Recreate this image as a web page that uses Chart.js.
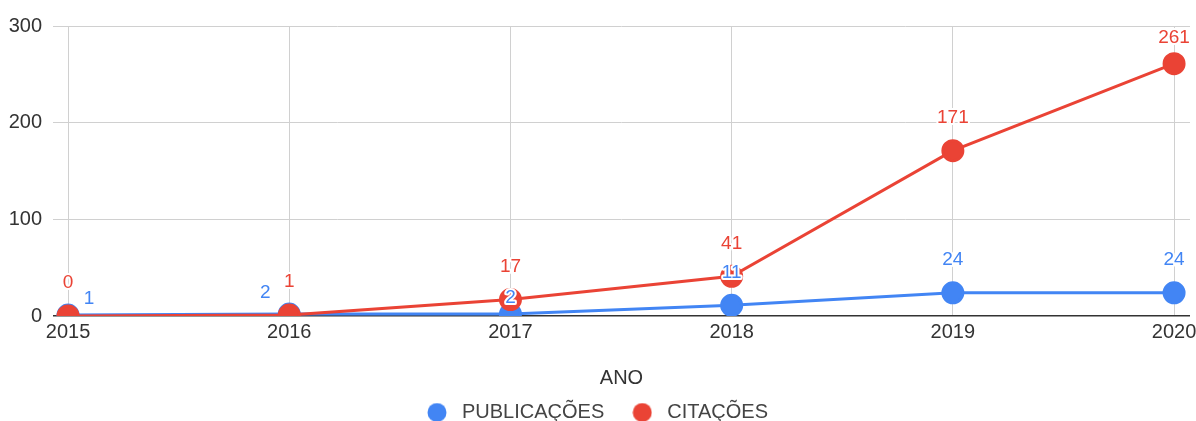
<!DOCTYPE html>
<html>
<head>
<meta charset="utf-8">
<script src="https://cdn.jsdelivr.net/npm/chart.js@4/dist/chart.umd.min.js"></script>
<style>
  html, body { margin: 0; padding: 0; background: #fff; }
  #wrap { width: 1196px; height: 421px; }
</style>
</head>
<body>
<div id="wrap"><canvas id="chart" width="1196" height="421"></canvas></div>
<script>
const years = [2015, 2016, 2017, 2018, 2019, 2020];
const publicacoes = [1, 2, 2, 11, 24, 24];
const citacoes = [0, 1, 17, 41, 171, 261];
const yTicks = [0, 100, 200, 300];

const BLUE = "#4285f4";
const RED = "#ea4335";
const FONT = "Arial, 'Liberation Sans', sans-serif";
const FS = 20;

// where google put the value labels (px from point centre), default is straight above
const labelShift = [
  { 0: [21, -16], 1: [-24, -21], 2: [0, -16] },
  { 5: [0, -26] },
];

const valueLabels = {
  id: "valueLabels",
  afterDatasetsDraw(chart) {
    const ctx = chart.ctx;
    ctx.save();
    ctx.font = "19px " + FONT;
    ctx.textAlign = "center";
    ctx.textBaseline = "middle";
    ctx.lineJoin = "round";
    chart.data.datasets.forEach((ds, di) => {
      const meta = chart.getDatasetMeta(di);
      meta.data.forEach((pt, i) => {
        const s = labelShift[di][i] || [0, -33];
        const x = pt.x + s[0];
        const y = pt.y + s[1];
        const txt = String(ds.data[i].y);
        ctx.strokeStyle = "#fff";
        ctx.lineWidth = 4;
        ctx.strokeText(txt, x, y);
        ctx.fillStyle = ds.borderColor;
        ctx.fillText(txt, x, y);
      });
    });
    ctx.restore();
  },
};

// legend dots as small images so the gap to the text can be wider
function dot(color) {
  const c = document.createElement("canvas");
  c.width = 20;
  c.height = 20;
  const g = c.getContext("2d");
  g.fillStyle = color;
  g.beginPath();
  g.arc(10, 10, 9.5, 0, Math.PI * 2);
  g.fill();
  return c;
}
const dots = [dot(BLUE), dot(RED)];

const toPoints = (arr) => arr.map((v, i) => ({ x: years[i], y: v }));

new Chart(document.getElementById("chart"), {
  type: "line",
  data: {
    datasets: [
      {
        label: "PUBLICAÇÕES",
        data: toPoints(publicacoes),
        borderColor: BLUE,
        backgroundColor: BLUE,
        borderWidth: 3,
        pointRadius: 10,
        pointHoverRadius: 10,
        order: 1,
      },
      {
        label: "CITAÇÕES",
        data: toPoints(citacoes),
        borderColor: RED,
        backgroundColor: RED,
        borderWidth: 3,
        pointRadius: 10,
        pointHoverRadius: 10,
        order: 0,
      },
    ],
  },
  options: {
    responsive: false,
    animation: false,
    layout: { autoPadding: false, padding: { top: 26, right: 6, left: 0, bottom: -11.5 } },
    plugins: {
      tooltip: { enabled: false },
      legend: {
        position: "bottom",
        labels: {
          usePointStyle: true,
          pointStyleWidth: 30,
          boxHeight: 18,
          padding: 23,
          color: "#444",
          font: { size: FS, family: FONT },
          sort: (a, b) => a.datasetIndex - b.datasetIndex,
          generateLabels: (chart) =>
            Chart.defaults.plugins.legend.labels.generateLabels(chart).map((it) => {
              it.pointStyle = dots[it.datasetIndex];
              return it;
            }),
        },
      },
    },
    scales: {
      x: {
        type: "linear",
        min: 2014.932,
        max: 2020.072,
        afterBuildTicks: (s) => { s.ticks = years.map((v) => ({ value: v })); },
        afterFit: (s) => {
          s.height = 63.5;
          s.paddingLeft = 0;
          s.paddingRight = 0;
        },
        ticks: {
          callback: (v) => String(v),
          color: "#333",
          font: { size: FS, family: FONT },
          padding: 4,
          maxRotation: 0,
        },
        grid: { color: "#d0d0d0", drawTicks: false, lineWidth: 1 },
        border: { display: false },
        title: {
          display: true,
          text: "ANO",
          color: "#333",
          font: { size: FS, family: FONT },
          padding: { top: 10, bottom: -11 },
        },
      },
      y: {
        min: 0,
        max: 300,
        afterBuildTicks: (s) => { s.ticks = yTicks.map((v) => ({ value: v })); },
        afterFit: (s) => { s.width = 53; },
        ticks: {
          color: "#333",
          font: { size: FS, family: FONT },
          padding: 11,
        },
        grid: {
          drawTicks: false,
          color: (c) => (c.tick && c.tick.value === 0 ? "#333" : "#d0d0d0"),
          lineWidth: (c) => (c.tick && c.tick.value === 0 ? 1.5 : 1),
        },
        border: { display: false },
      },
    },
  },
  plugins: [valueLabels],
});
</script>
</body>
</html>
